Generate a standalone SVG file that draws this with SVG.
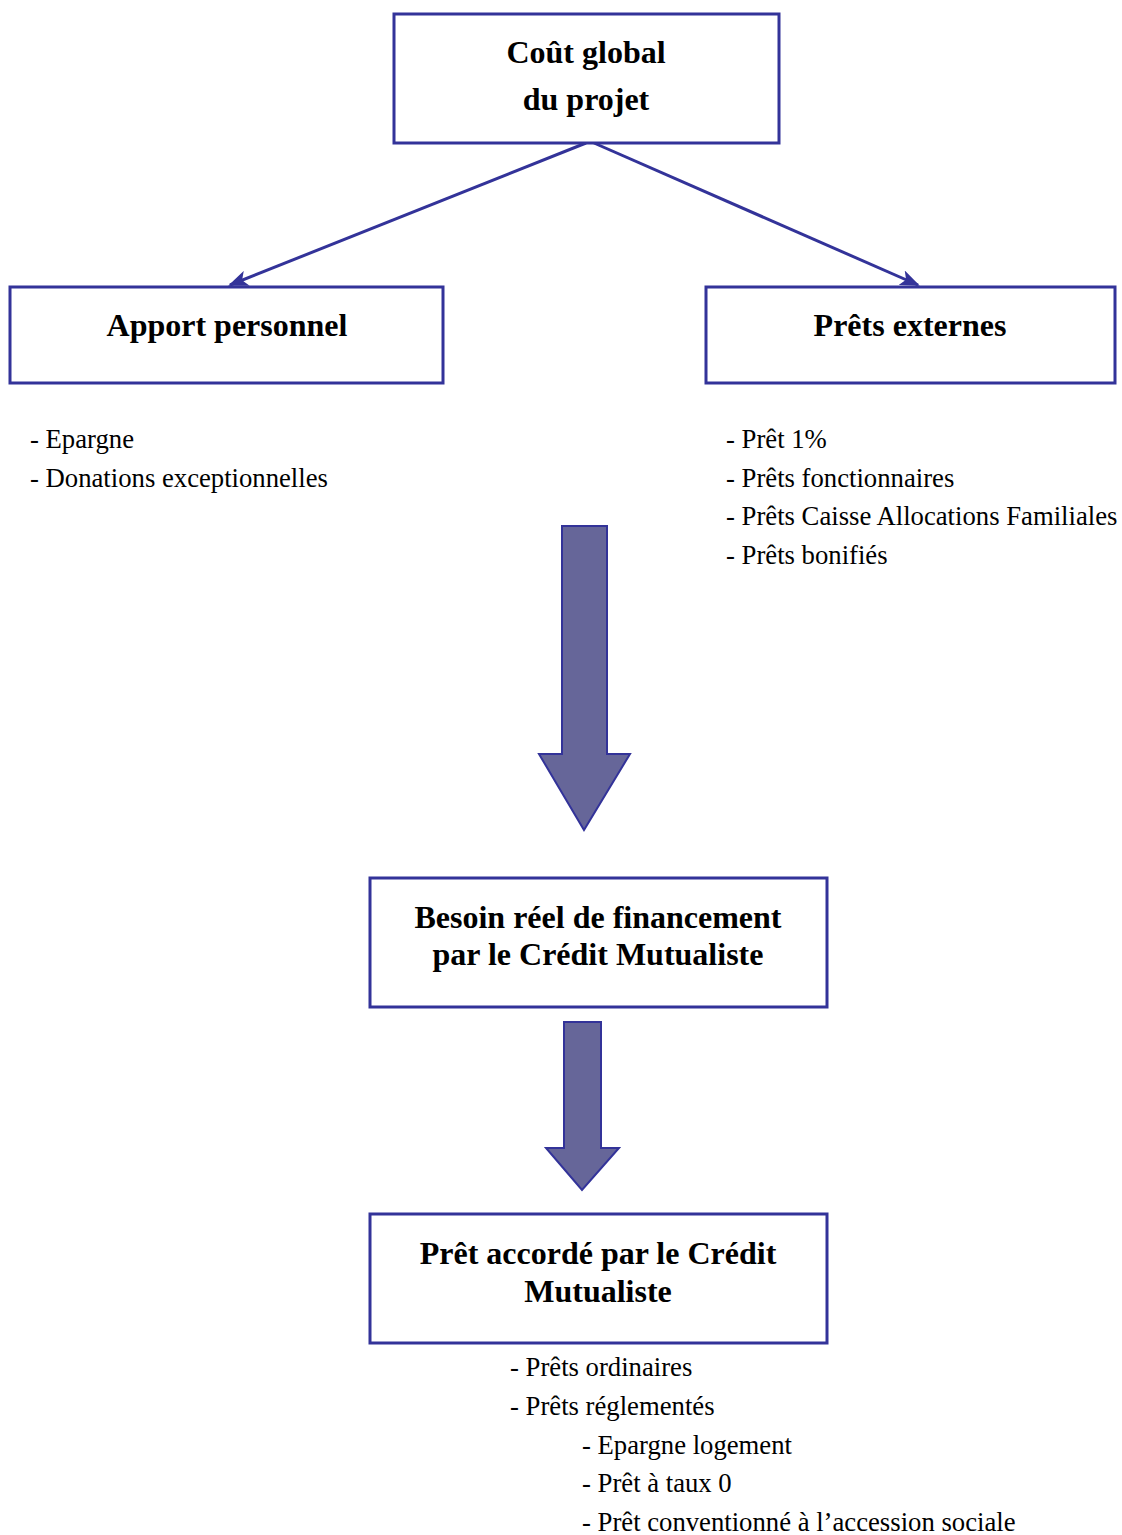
<svg xmlns="http://www.w3.org/2000/svg" width="1122" height="1535" viewBox="0 0 1122 1535">
<style>
.box{fill:#fff;stroke:#333399;stroke-width:3}
.t{font-family:"Liberation Serif","Times New Roman",serif;font-weight:bold;font-size:32px;fill:#000;text-anchor:middle}
.l{font-family:"Liberation Serif","Times New Roman",serif;font-size:26.7px;fill:#000}
.con{stroke:#333399;stroke-width:3;fill:none}
.big{fill:#666699;stroke:#333399;stroke-width:2}
</style>
<defs>
<marker id="ah" viewBox="0 0 20 16" refX="18" refY="8" markerWidth="20" markerHeight="16" markerUnits="userSpaceOnUse" orient="auto">
<path d="M0,0 L20,8 L0,16 L5,8 Z" fill="#333399"/>
</marker>
</defs>
<rect width="1122" height="1535" fill="#fff"/>
<g id="connectors">
<line class="con" x1="586" y1="143" x2="230" y2="285" marker-end="url(#ah)"/>
<line class="con" x1="594" y1="143" x2="918" y2="285" marker-end="url(#ah)"/>
<path class="big" d="M562,526 L607,526 L607,754 L630,754 L584,830 L539,754 L562,754 Z"/>
<path class="big" d="M564,1022 L601,1022 L601,1148 L619,1148 L582,1190 L546,1148 L564,1148 Z"/>
</g>
<g id="cout">
<rect class="box" x="394" y="14" width="385" height="129"/>
<text class="t" x="586" y="63">Coût global</text>
<text class="t" x="586" y="110">du projet</text>
</g>
<g id="apport">
<rect class="box" x="10" y="287" width="433" height="96"/>
<text class="t" x="227" y="336">Apport personnel</text>
</g>
<g id="prets">
<rect class="box" x="706" y="287" width="409" height="96"/>
<text class="t" x="910" y="336">Prêts externes</text>
</g>
<g id="apport-list">
<text class="l" x="30" y="448">- Epargne</text>
<text class="l" x="30" y="487">- Donations exceptionnelles</text>
</g>
<g id="prets-list">
<text class="l" x="726" y="448">- Prêt 1%</text>
<text class="l" x="726" y="487">- Prêts fonctionnaires</text>
<text class="l" x="726" y="525">- Prêts Caisse Allocations Familiales</text>
<text class="l" x="726" y="564">- Prêts bonifiés</text>
</g>
<g id="besoin">
<rect class="box" x="370" y="878" width="457" height="129"/>
<text class="t" x="598" y="928">Besoin réel de financement</text>
<text class="t" x="598" y="965">par le Crédit Mutualiste</text>
</g>
<g id="pret-accorde">
<rect class="box" x="370" y="1214" width="457" height="129"/>
<text class="t" x="598" y="1264">Prêt accordé par le Crédit</text>
<text class="t" x="598" y="1302">Mutualiste</text>
</g>
<g id="pret-list">
<text class="l" x="510" y="1376">- Prêts ordinaires</text>
<text class="l" x="510" y="1415">- Prêts réglementés</text>
<text class="l" x="582" y="1454">- Epargne logement</text>
<text class="l" x="582" y="1492">- Prêt à taux 0</text>
<text class="l" x="582" y="1531">- Prêt conventionné à l’accession sociale</text>
</g>
</svg>
